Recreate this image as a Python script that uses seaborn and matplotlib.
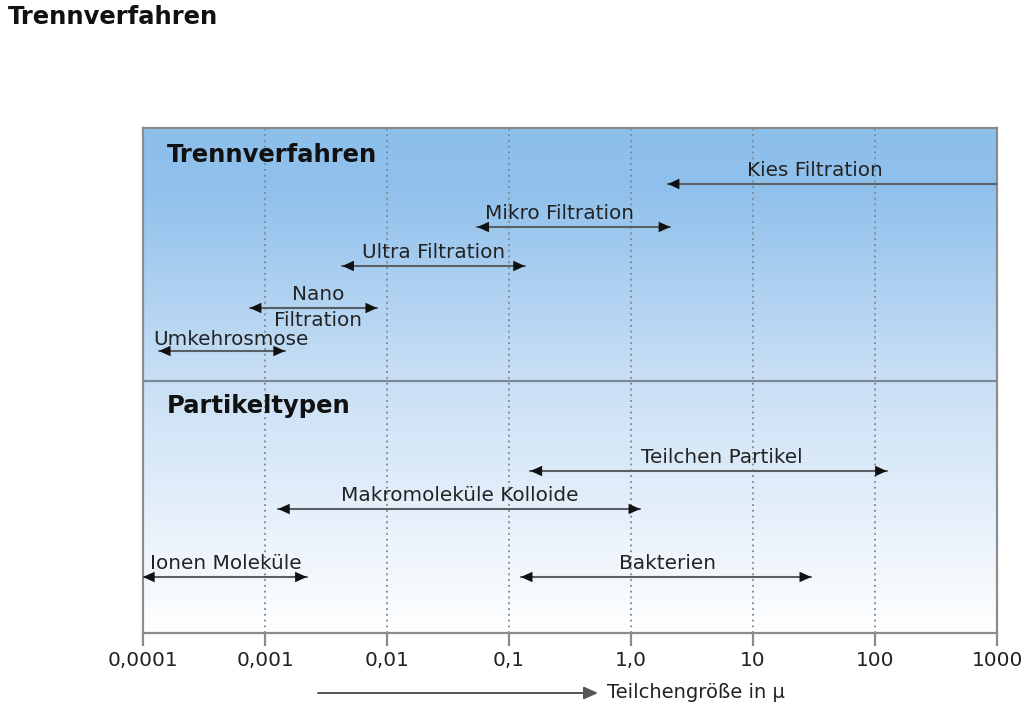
import numpy as np
import pandas as pd
import matplotlib
matplotlib.use("Agg")
import matplotlib.pyplot as plt
from matplotlib.colors import LinearSegmentedColormap
from matplotlib.transforms import blended_transform_factory
from matplotlib.patches import FancyArrowPatch
import seaborn as sns

# ---------------- data ----------------
tick_values = [0.0001, 0.001, 0.01, 0.1, 1.0, 10, 100, 1000]
tick_labels = ["0,0001", "0,001", "0,01", "0,1", "1,0", "10", "100", "1000"]

method_names = ["Kies Filtration", "Mikro Filtration", "Ultra Filtration", "Nano", "Umkehrosmose"]
method_sub = ["", "", "", "Filtration", ""]
method_lo = [2.0, 0.055, 0.0043, 0.00075, 0.000135]
method_hi = [1000, 2.1, 0.135, 0.0083, 0.00146]

particle_names = ["Teilchen Partikel", "Makromoleküle Kolloide", "Ionen Moleküle", "Bakterien"]
particle_lo = [0.15, 0.00128, 0.0001, 0.125]
particle_hi = [125, 1.19, 0.0022, 30]

# ---------------- layout (row levels in px from top of plot area) ----------------
method_rows = [56, 99, 138, 180, 223]
particle_rows = [343, 381, 449, 449]
method_heads = ["left", "both", "both", "both", "both"]
particle_heads = ["both", "both", "both", "both"]
method_label_dx = [-17, -14, 0, 5, 9]      # px shift of label from arrow centre
method_label_dy = [4, 4, 4, 4, 2]
particle_label_dx = [13, 1, 1, 1]

sns.set_theme(style="white")
plt.rcParams["font.family"] = ["DejaVu Sans"]

W, H = 1024, 709
fig = plt.figure(figsize=(W / 100, H / 100), dpi=100)
ax = fig.add_axes([143 / W, 76 / H, 854 / W, 505 / H])
ax.set_xscale("log")

# gradient background
cmap = LinearSegmentedColormap.from_list(
    "bg", [(0.0, "#8dbfeb"), (0.12, "#90c1ec"), (0.5, "#c9dff5"), (0.75, "#e4effa"), (1.0, "#ffffff")])
grad = np.linspace(0, 1, 256).reshape(-1, 1)
ax.imshow(grad, cmap=cmap, aspect="auto", extent=[0, 1, 0, 1],
          transform=ax.transAxes, origin="upper", zorder=0, interpolation="bicubic")

# shafts via seaborn
rows = []
for i, (lo, hi, yy) in enumerate(zip(method_lo + particle_lo, method_hi + particle_hi,
                                    method_rows + particle_rows)):
    rows.append({"x": lo, "y": yy, "seg": i})
    rows.append({"x": hi, "y": yy, "seg": i})
seg_df = pd.DataFrame(rows)
sns.lineplot(data=seg_df, x="x", y="y", units="seg", estimator=None, color="#5a5f66",
             lw=1.5, ax=ax, zorder=3, legend=False, sort=False)
ax.set_xlabel("")
ax.set_ylabel("")
ax.set_ylim(505, 0)
ax.set_xlim(tick_values[0], tick_values[-1])

# ticks / grid
ax.set_xticks(tick_values)
ax.set_xticklabels(tick_labels)
ax.minorticks_off()
ax.set_yticks([])
for v in tick_values[1:-1]:
    ax.axvline(v, color="#7d8690", lw=1.3, linestyle=(0, (1, 2.2)), zorder=1)

# divider
ax.axhline(253, color="#7a8896", lw=1.6, zorder=2)

for s in ax.spines.values():
    s.set_color("#8c8c8c")
    s.set_linewidth(1.6)
    s.set_visible(True)
ax.tick_params(axis="x", direction="out", length=9, width=1.6, color="#8c8c8c",
               labelsize=14.4, pad=4, labelcolor="#222222", bottom=True)

# section headers
bt = blended_transform_factory(ax.transAxes, ax.transData)
ax.text(24 / 854, 27, "Trennverfahren", transform=bt, fontsize=17.5, fontweight="bold",
        color="#111111", va="center", ha="left", zorder=5)
ax.text(24 / 854, 278, "Partikeltypen", transform=bt, fontsize=17.5, fontweight="bold",
        color="#111111", va="center", ha="left", zorder=5)


def draw_arrow(lo, hi, yy, heads):
    style = "<|-|>" if heads == "both" else "<|-"
    ax.annotate("", xy=(hi, yy), xytext=(lo, yy), xycoords="data", textcoords="data",
                arrowprops=dict(arrowstyle=style + ",head_length=0.6,head_width=0.27",
                                color="#111111", lw=0, shrinkA=0, shrinkB=0,
                                mutation_scale=14),
                annotation_clip=False, zorder=4)


def draw_label(text, x, yy, dx_px, dy_px, va):
    ax.annotate(text, xy=(x, yy), xycoords="data",
                xytext=(dx_px * 0.72, dy_px * 0.72), textcoords="offset points",
                fontsize=14.4, color="#222222", ha="center", va=va, zorder=5,
                annotation_clip=False)


for name, sub, lo, hi, yy, hd, dx, dy in zip(method_names, method_sub, method_lo, method_hi,
                                             method_rows, method_heads, method_label_dx,
                                             method_label_dy):
    draw_arrow(lo, hi, yy, hd)
    xc = np.sqrt(lo * hi)
    draw_label(name, xc, yy, dx, dy, "bottom")
    if sub:
        draw_label(sub, xc, yy, dx, -3, "top")

for name, lo, hi, yy, hd, dx in zip(particle_names, particle_lo, particle_hi, particle_rows,
                                    particle_heads, particle_label_dx):
    draw_arrow(lo, hi, yy, hd)
    xc = np.sqrt(lo * hi)
    draw_label(name, xc, yy, dx, 4, "bottom")

# figure title
fig.text(8 / W, 692 / H, "Trennverfahren", fontsize=17.5, fontweight="bold",
         color="#111111", ha="left", va="center")

# bottom axis arrow + label
fig.patches.append(FancyArrowPatch(
    (318 / W, 16 / H), (598 / W, 16 / H), transform=fig.transFigure,
    arrowstyle="-|>,head_length=0.6,head_width=0.27", mutation_scale=14,
    color="#555555", lw=1.4, shrinkA=0, shrinkB=0))
fig.text(607 / W, 17 / H, "Teilchengröße in μ", fontsize=14, color="#222222",
         ha="left", va="center")

fig.savefig("out.png", dpi=100)
